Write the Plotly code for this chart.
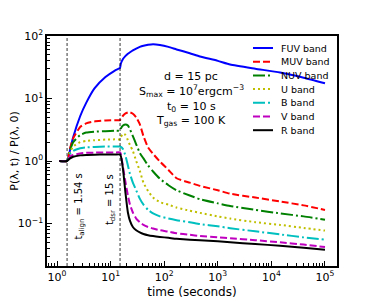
import numpy as np
import plotly.graph_objects as go

# time grid (seconds)
time_s = [1.1, 1.54, 1.75, 2.0, 2.7, 3.5, 5, 8, 12, 15, 15.5, 17, 19, 21, 23, 26, 30, 35, 41, 50,
          62, 83, 120, 170, 300, 465, 1000, 1700, 5000, 14500, 40000, 100000]

fuv = [1.0, 1.0, 1.5, 2.4, 5.2, 8.5, 14.5, 22, 28, 31, 36, 43, 48, 52, 55, 59, 63, 67, 70, 72.5,
       74, 72, 67, 61, 53, 47, 40, 35, 30, 26, 21.5, 17.5]
muv = [1.0, 1.0, 1.6, 2.3, 3.5, 4.0, 4.3, 4.45, 4.5, 4.5, 4.7, 5.3, 5.8, 6.0, 6.0, 5.7, 5.0, 3.9, 2.5, 1.65,
       1.3, 0.98, 0.72, 0.53, 0.45, 0.40, 0.34, 0.30, 0.26, 0.225, 0.195, 0.165]
nuv = [1.0, 1.0, 1.5, 2.0, 2.6, 2.85, 2.95, 3.0, 3.05, 3.05, 3.3, 3.7, 3.85, 3.7, 3.2, 2.5, 1.85, 1.35, 1.1, 0.85,
       0.68, 0.52, 0.41, 0.34, 0.28, 0.245, 0.21, 0.19, 0.165, 0.145, 0.13, 0.115]
u_band = [1.0, 1.0, 1.4, 1.7, 2.0, 2.1, 2.15, 2.2, 2.22, 2.22, 2.4, 2.75, 2.6, 2.15, 1.8, 1.45, 1.0, 0.7, 0.45, 0.33,
          0.26, 0.22, 0.2, 0.18, 0.16, 0.148, 0.13, 0.12, 0.105, 0.095, 0.085, 0.077]
b_band = [1.0, 1.0, 1.3, 1.45, 1.6, 1.65, 1.68, 1.7, 1.7, 1.7, 1.68, 1.55, 1.2, 0.85, 0.62, 0.45, 0.34, 0.25, 0.2, 0.165,
          0.145, 0.13, 0.12, 0.113, 0.105, 0.098, 0.09, 0.084, 0.075, 0.067, 0.06, 0.055]
v_band = [1.0, 1.0, 1.18, 1.25, 1.32, 1.35, 1.36, 1.37, 1.37, 1.37, 1.3, 0.8, 0.45, 0.28, 0.2, 0.15, 0.12, 0.105, 0.095, 0.088,
          0.083, 0.078, 0.074, 0.07, 0.066, 0.063, 0.06, 0.058, 0.054, 0.05, 0.046, 0.042]
r_band = [1.0, 1.0, 1.1, 1.17, 1.23, 1.25, 1.26, 1.27, 1.27, 1.27, 1.2, 0.75, 0.3, 0.15, 0.11, 0.088, 0.078, 0.072, 0.068, 0.065,
          0.063, 0.061, 0.059, 0.057, 0.055, 0.054, 0.052, 0.05, 0.047, 0.044, 0.041, 0.038]

band_names = ["FUV band", "MUV band", "NUV band", "U band", "B band", "V band", "R band"]
t_align = 1.54
t_dsr = 15
x_tick_vals = [1, 10, 100, 1000, 10000, 100000]
x_tick_text = ["10<sup>0</sup>", "10<sup>1</sup>", "10<sup>2</sup>", "10<sup>3</sup>", "10<sup>4</sup>", "10<sup>5</sup>"]
y_tick_vals = [0.1, 1, 10, 100]
y_tick_text = ["10<sup>−1</sup>", "10<sup>0</sup>", "10<sup>1</sup>", "10<sup>2</sup>"]
info_lines = ["d = 15 pc", "S<sub>max</sub> = 10<sup>7</sup>ergcm<sup>−3</sup>", "t<sub>0</sub> = 10 s",
              "T<sub>gas</sub> = 100 K"]

# page body has an 8px margin; figure is sized to fit the 374x299 window
OFF = 8
FIG_W, FIG_H = 374 - OFF, 299 - OFF
# plot-area geometry in window pixels (for placing text/legend)
L, R, T, B = 47, 337, 36, 266
W, H = R - L, B - T
def px(xp):
    return (xp - L) / W
def py(yp):
    return 1 - (yp - T) / H

series = [fuv, muv, nuv, u_band, b_band, v_band, r_band]
colors = ["#0000ff", "#ff0000", "#008000", "#bfbf00", "#00bfbf", "#bf00bf", "#000000"]
dashes = ["solid", "7px,3px", "12px,3px,2px,3px", "2px,3px", "12px,3px,2px,3px", "7px,3px", "solid"]

fig = go.Figure()
for name, vals, c, d in zip(band_names, series, colors, dashes):
    fig.add_trace(go.Scatter(x=time_s, y=vals, mode="lines", name=name, showlegend=False,
                             line=dict(color=c, width=2, dash=d, shape="spline", smoothing=0.5)))

y_lo, y_hi = 10 ** -1.68, 100
for tv in (t_align, t_dsr):
    fig.add_trace(go.Scatter(x=[tv, tv], y=[y_lo, y_hi], mode="lines", showlegend=False,
                             line=dict(color="black", width=0.8, dash="3px,2px"), hoverinfo="skip"))

annots = [
    dict(x=np.log10(t_align), y=py(172), xref="x", yref="paper", text="t<sub>align</sub> = 1.54 s",
         textangle=-90, showarrow=False, xanchor="left", yanchor="top", xshift=3, font=dict(size=10)),
    dict(x=np.log10(t_dsr), y=py(172), xref="x", yref="paper", text="t<sub>dsr</sub> = 15 s",
         textangle=-90, showarrow=False, xanchor="right", yanchor="top", xshift=-1, font=dict(size=10)),
]
info_y = [76.7, 90.5, 106.5, 121.5]
for txt, yy in zip(info_lines, info_y):
    annots.append(dict(x=px(191), y=py(yy), xref="paper", yref="paper", text=txt,
                       showarrow=False, xanchor="center", yanchor="middle", font=dict(size=11)))

# legend (drawn manually for matplotlib-like compact spacing)
shapes = []
for i, (name, c, d) in enumerate(zip(band_names, colors, dashes)):
    yy = 48 + i * 13.7
    shapes.append(dict(type="line", xref="paper", yref="paper", x0=px(253), x1=px(273), y0=py(yy), y1=py(yy),
                       line=dict(color=c, width=2, dash=d)))
    annots.append(dict(x=px(279), y=py(yy), xref="paper", yref="paper", text=name, showarrow=False,
                       xanchor="left", yanchor="middle", font=dict(size=9.5)))

minor = dict(ticks="inside", ticklen=3, tickcolor="black", tickwidth=0.8, dtick="D1")
axis_common = dict(type="log", showgrid=False, zeroline=False, showline=True, linecolor="black",
                   linewidth=1.5, mirror=True, ticks="inside", ticklen=5, tickwidth=1, tickcolor="black",
                   tickmode="array", tickfont=dict(size=11, color="black"), automargin=False, minor=minor)

fig.update_layout(
    width=FIG_W, height=FIG_H,
    margin=dict(l=L - OFF, r=374 - R, t=T - OFF, b=299 - B, autoexpand=False),
    paper_bgcolor="white", plot_bgcolor="white",
    font=dict(family="DejaVu Sans, sans-serif", color="black", size=11),
    xaxis=dict(range=[-0.187, 5.224], tickvals=x_tick_vals, ticktext=x_tick_text,
               title=dict(text="time (seconds)", font=dict(size=12)), **axis_common),
    yaxis=dict(range=[-1.68, 2], tickvals=y_tick_vals, ticktext=y_tick_text,
               title=dict(text="P(λ, t) / P(λ, 0)", font=dict(size=11)), **axis_common),
    annotations=annots,
    shapes=shapes,
    showlegend=False,
)
fig.write_html("out.html")
